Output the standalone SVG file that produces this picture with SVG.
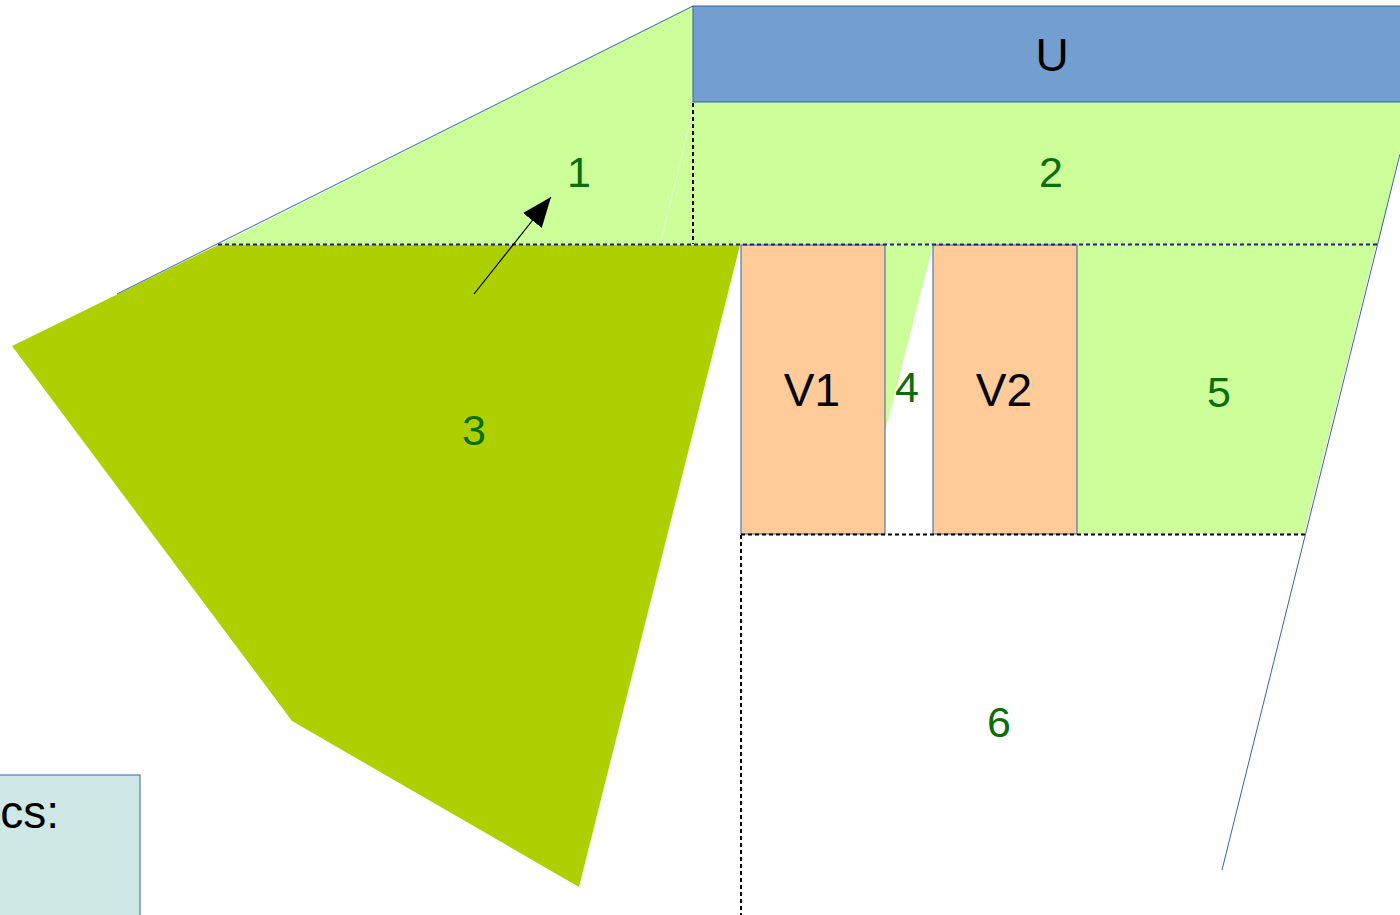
<svg xmlns="http://www.w3.org/2000/svg" width="1400" height="915" viewBox="0 0 1400 915">
<defs>
<style>
.lg{fill:#ccff99;stroke:none}
.dg{fill:#afd000;stroke:none}
.v{fill:#ffcc99;stroke:#3465a4;stroke-width:1}
.num{font-family:"Liberation Sans",Arial,sans-serif;font-size:43px;fill:#0b6e0b;text-anchor:middle}
.lab{font-family:"Liberation Sans",Arial,sans-serif;font-size:46px;fill:#000;text-anchor:middle}
.dotb{stroke:#2a1a8a;stroke-width:2;stroke-dasharray:4,3;fill:none}
.dotk{stroke:#000;stroke-width:2;stroke-dasharray:4,3;fill:none}
.edge{stroke:#3465a4;stroke-width:1;fill:none}
</style>
<marker id="ahb" viewBox="0 0 30 24" refX="30" refY="12" markerWidth="30" markerHeight="24" markerUnits="userSpaceOnUse" orient="auto">
<path d="M0,0 L30,12 L0,24 z" fill="#000"/>
</marker>
</defs>
<rect width="1400" height="915" fill="#fff"/>
<g id="region1">
<polygon class="lg" points="693,6 218,245 693,245"/>
<line x1="693" y1="110" x2="660" y2="245" stroke="#e6ffd6" stroke-width="1"/>
<text class="num" x="579" y="187">1</text>
</g>
<g id="region2">
<polygon class="lg" points="693,102 1400,102 1400,150 1378,245 693,245"/>
<text class="num" x="1051" y="187">2</text>
</g>
<g id="region3">
<polygon class="dg" points="218,245 740,245 579,887 292,721 12,346"/>
<text class="num" x="474" y="445">3</text>
</g>
<g id="region4">
<polygon class="lg" points="885,245 933,245 885,432"/>
<text class="num" x="907" y="402">4</text>
</g>
<g id="region5">
<polygon class="lg" points="1077,245 1376,245 1304,534 1077,534"/>
<text class="num" x="1219" y="407">5</text>
</g>
<g id="region6">
<text class="num" x="999" y="737">6</text>
</g>
<g id="U">
<rect x="693" y="6" width="720" height="96" fill="#729fcf" stroke="#3465a4" stroke-width="1"/>
<text class="lab" x="1052" y="71">U</text>
</g>
<g id="V1">
<rect class="v" x="741" y="245" width="144" height="289"/>
<text class="lab" x="812" y="406">V1</text>
</g>
<g id="V2">
<rect class="v" x="933" y="245" width="144" height="289"/>
<text class="lab" x="1004" y="406">V2</text>
</g>
<g id="legend">
<rect x="-5" y="775" width="145" height="150" fill="#cfe7e5" stroke="#3465a4" stroke-width="1"/>
<text font-family="'Liberation Sans',Arial,sans-serif" font-size="46" fill="#000" x="59" y="828" text-anchor="end">cs:</text>
</g>
<g id="connectors">
<line class="edge" x1="693" y1="6" x2="117" y2="294"/>
<line class="edge" x1="1400" y1="154" x2="1222" y2="870"/>
<line class="dotb" x1="218" y1="244.5" x2="1380" y2="244.5"/>
<line class="dotk" x1="693" y1="103" x2="693" y2="244"/>
<line class="dotk" x1="741" y1="534.5" x2="1305" y2="534.5"/>
<line class="dotk" x1="741" y1="535" x2="741" y2="915"/>
<line x1="474" y1="294" x2="551" y2="197" stroke="#000" stroke-width="1.2" marker-end="url(#ahb)"/>
</g>
</svg>
